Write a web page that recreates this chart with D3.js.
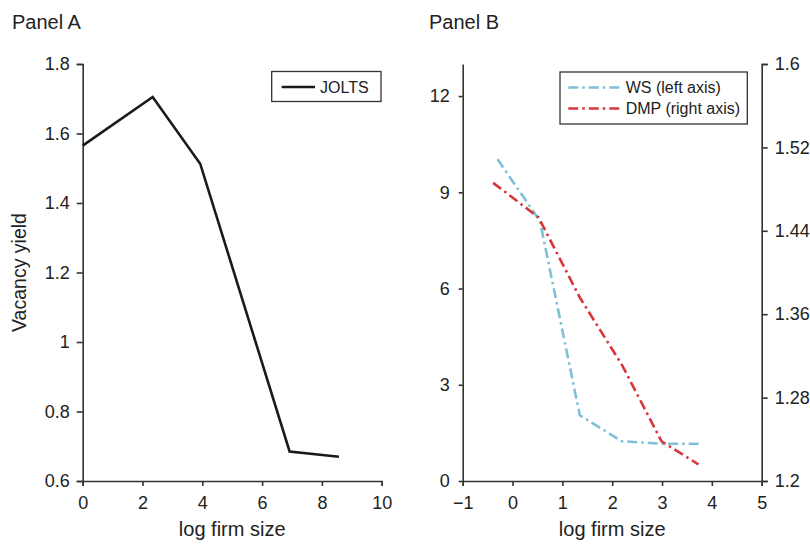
<!DOCTYPE html>
<html>
<head>
<meta charset="utf-8">
<script src="https://cdn.jsdelivr.net/npm/d3@7"></script>
<style>
  html, body { margin: 0; padding: 0; background: #fff; }
  svg { display: block; font-family: "Liberation Sans", Arial, Helvetica, sans-serif; }
</style>
</head>
<body>
<svg id="chart" width="810" height="544"></svg>
<script>
// ---------- Data ----------
const joltsX = [0, 2.34, 3.93, 6.92, 8.57];
const joltsY = [1.565, 1.705, 1.513, 0.685, 0.670];

const wsX = [-0.3, 0.55, 1.35, 2.19, 3.03, 3.8];
const wsY = [10.03, 8.1, 2.05, 1.24, 1.16, 1.16];

const dmpX = [-0.39, 0.52, 1.35, 2.2, 2.99, 3.73];
const dmpY = [1.486, 1.453, 1.376, 1.311, 1.238, 1.216];

const aXTicks = [0, 2, 4, 6, 8, 10];
const aYTicks = [0.6, 0.8, 1, 1.2, 1.4, 1.6, 1.8];
const aYTickLabels = ["0.6", "0.8", "1", "1.2", "1.4", "1.6", "1.8"];
const bXTicks = [-1, 0, 1, 2, 3, 4, 5];
const bLeftTicks = [0, 3, 6, 9, 12];
const bRightTicks = [1.2, 1.28, 1.36, 1.44, 1.52, 1.6];
const bRightTickLabels = ["1.2", "1.28", "1.36", "1.44", "1.52", "1.6"];

const panelTitles = ["Panel A", "Panel B"];
const xTitle = "log firm size";
const yTitleA = "Vacancy yield";
const legendA = ["JOLTS"];
const legendB = ["WS (left axis)", "DMP (right axis)"];

// ---------- Styles ----------
const axisColor = "#333";
const textColor = "#222";
const blue = "#7fc0d6";
const red = "#d7363a";
const dashDot = "10,4,2.5,4";

const svg = d3.select("#chart");

function styleAxis(g) {
  g.selectAll("path.domain").attr("stroke", axisColor).attr("stroke-width", 1.6);
  g.selectAll(".tick line").attr("stroke", axisColor).attr("stroke-width", 1.6);
  g.selectAll(".tick text").attr("fill", textColor).style("font-size", "18px")
    .style("font-family", "'Liberation Sans', Arial, sans-serif");
}

const plotTop = 64, plotBottom = 481;

// ---------- Panel A ----------
const xA = d3.scaleLinear().domain([0, 10]).range([82.7, 381.7]);
const yA = d3.scaleLinear().domain([0.6, 1.8]).range([plotBottom, plotTop]);

svg.append("g").attr("transform", `translate(0,${plotBottom})`)
  .call(d3.axisBottom(xA).tickValues(aXTicks).tickSize(5).tickPadding(10).tickSizeOuter(5).tickFormat(d3.format("d")))
  .call(styleAxis);
svg.append("g").attr("transform", `translate(82.7,0)`)
  .call(d3.axisLeft(yA).tickValues(aYTicks).tickSize(6).tickPadding(7).tickSizeOuter(6)
    .tickFormat((d, i) => aYTickLabels[i]))
  .call(styleAxis);

const lineA = d3.line().x(d => xA(d[0])).y(d => yA(d[1]));
svg.append("path")
  .datum(joltsX.map((x, i) => [x, joltsY[i]]))
  .attr("d", lineA).attr("fill", "none").attr("stroke", "#1a1a1a")
  .attr("stroke-width", 2.6).attr("stroke-linejoin", "miter");

svg.append("text").attr("x", 12).attr("y", 29).text(panelTitles[0])
  .attr("fill", textColor).style("font-size", "20px");
svg.append("text").attr("x", xA(5)).attr("y", 536).attr("text-anchor", "middle")
  .text(xTitle).attr("fill", textColor).style("font-size", "20px");
svg.append("text").attr("transform", `translate(26,${(plotTop + plotBottom) / 2}) rotate(-90)`)
  .attr("text-anchor", "middle").text(yTitleA).attr("fill", textColor).style("font-size", "19.5px");

// Legend A
svg.append("rect").attr("x", 271.7).attr("y", 71.5).attr("width", 109.3).attr("height", 30)
  .attr("fill", "#fff").attr("stroke", axisColor).attr("stroke-width", 1.3);
svg.append("line").attr("x1", 281.7).attr("x2", 315).attr("y1", 87).attr("y2", 87)
  .attr("stroke", "#1a1a1a").attr("stroke-width", 2.6);
svg.append("text").attr("x", 320).attr("y", 92.5).text(legendA[0])
  .attr("fill", textColor).style("font-size", "16px");

// ---------- Panel B ----------
const xB = d3.scaleLinear().domain([-1, 5]).range([462.7, 761.7]);
const yBL = d3.scaleLinear().domain([0, 13]).range([plotBottom, plotTop]);
const yBR = d3.scaleLinear().domain([1.2, 1.6]).range([plotBottom, plotTop]);

svg.append("g").attr("transform", `translate(0,${plotBottom})`)
  .call(d3.axisBottom(xB).tickValues(bXTicks).tickSize(5).tickPadding(10).tickSizeOuter(5).tickFormat(d3.format("d")))
  .call(styleAxis);
svg.append("g").attr("transform", `translate(462.7,0)`)
  .call(d3.axisLeft(yBL).tickValues(bLeftTicks).tickSize(4).tickPadding(9).tickSizeOuter(0).tickFormat(d3.format("d")))
  .call(styleAxis);
svg.append("g").attr("transform", `translate(761.7,0)`)
  .call(d3.axisRight(yBR).tickValues(bRightTicks).tickSize(6).tickPadding(7).tickSizeOuter(6)
    .tickFormat((d, i) => bRightTickLabels[i]))
  .call(styleAxis);

svg.append("path")
  .datum(wsX.map((x, i) => [x, wsY[i]]))
  .attr("d", d3.line().x(d => xB(d[0])).y(d => yBL(d[1])))
  .attr("fill", "none").attr("stroke", blue).attr("stroke-width", 2.6)
  .attr("stroke-dasharray", dashDot);
svg.append("path")
  .datum(dmpX.map((x, i) => [x, dmpY[i]]))
  .attr("d", d3.line().x(d => xB(d[0])).y(d => yBR(d[1])))
  .attr("fill", "none").attr("stroke", red).attr("stroke-width", 2.6)
  .attr("stroke-dasharray", dashDot);

svg.append("text").attr("x", 429).attr("y", 29).text(panelTitles[1])
  .attr("fill", textColor).style("font-size", "20px");
svg.append("text").attr("x", xB(2)).attr("y", 536).attr("text-anchor", "middle")
  .text(xTitle).attr("fill", textColor).style("font-size", "20px");

// Legend B
svg.append("rect").attr("x", 560).attr("y", 72).attr("width", 187.3).attr("height", 52)
  .attr("fill", "#fff").attr("stroke", axisColor).attr("stroke-width", 1.3);
const legColors = [blue, red];
legendB.forEach((t, i) => {
  const y = 87.5 + i * 21;
  svg.append("line").attr("x1", 568.3).attr("x2", 621.7).attr("y1", y).attr("y2", y)
    .attr("stroke", legColors[i]).attr("stroke-width", 2.6).attr("stroke-dasharray", dashDot);
  svg.append("text").attr("x", 625.7).attr("y", y + 5.5).text(t)
    .attr("fill", textColor).style("font-size", "16px");
});
</script>
</body>
</html>
